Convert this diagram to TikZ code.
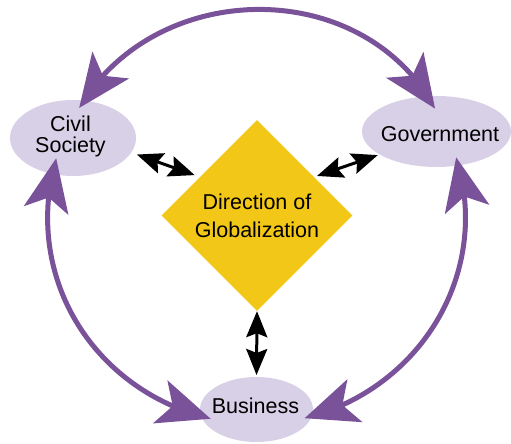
\documentclass[tikz,border=0pt]{standalone}
\usepackage{fontspec}
\setmainfont{Liberation Sans}
\usepackage{xcolor}
\usetikzlibrary{arrows.meta, bending, shapes.geometric}
\definecolor{loopviolet}{RGB}{122,82,153}
\definecolor{actorlilac}{RGB}{216,208,230}
\definecolor{globyellow}{RGB}{242,199,24}
\tikzset{actor/.style={ellipse, fill=actorlilac, inner sep=0pt, outer sep=0pt},
    actortext/.style={font=\fontsize{21.5}{21}\selectfont, align=center, inner sep=0pt},
    cyclearrow/.style={draw=loopviolet, line width=5pt,
        {Stealth[length=53pt, width=45pt, inset=13pt, flex]}-{Stealth[length=53pt, width=45pt, inset=13pt, flex]}},
    linkarrow/.style={draw=black, line width=3pt,
        {Stealth[length=26pt, width=21pt, inset=4pt]}-{Stealth[length=26pt, width=21pt, inset=4pt]}}}
\begin{document}
\begin{tikzpicture}[x=1pt, y=1pt]
                      \useasboundingbox (0,0) rectangle (511,444);
                      \node[actor, minimum width=126pt, minimum height=76pt, label={[actortext, xshift=-2.5pt, yshift=2pt]center:{Civil\\Society}}] (cs) at (73,306) {};
                      \node[actor, minimum width=149pt, minimum height=71pt, label={[actortext, xshift=3.5pt, yshift=-2.5pt]center:{Government}}] (gov) at (436.5,312.5) {};
                      \node[actor, minimum width=113pt, minimum height=65pt, label={[actortext, xshift=-1pt, yshift=3.5pt]center:{Business}}] (bus) at (256.5,34.5) {};
                      \node[diamond, fill=globyellow, minimum size=191pt, inner sep=0pt, align=center, font=\fontsize{21.5}{28}\selectfont] (glob) at (257,228.5) {Direction of\\Globalization};
                      
                      \draw[cyclearrow, shorten <=-8.7pt, shorten >=-14.3pt] (cs.74) to[out=57, in=123, looseness=1.05] (gov.104);
                      \draw[cyclearrow, shorten <=-16pt, shorten >=-9.7pt] (cs.240) to[out=258, in=164, looseness=1] (bus.187);
                      \draw[cyclearrow, shorten <=-8.4pt, shorten >=-7.4pt] (gov.-57) to[out=285, in=16, looseness=1] (bus.-7);
                      
                      \draw[linkarrow, shorten <=6pt, shorten >=5.5pt] (cs.-14) -- (glob.146);
                      \draw[linkarrow, shorten <=3pt, shorten >=2pt] (glob.34) -- (gov.202);
                      \draw[linkarrow, shorten >=2pt] (glob.south) -- (bus.north);
             \end{tikzpicture}
\end{document}
